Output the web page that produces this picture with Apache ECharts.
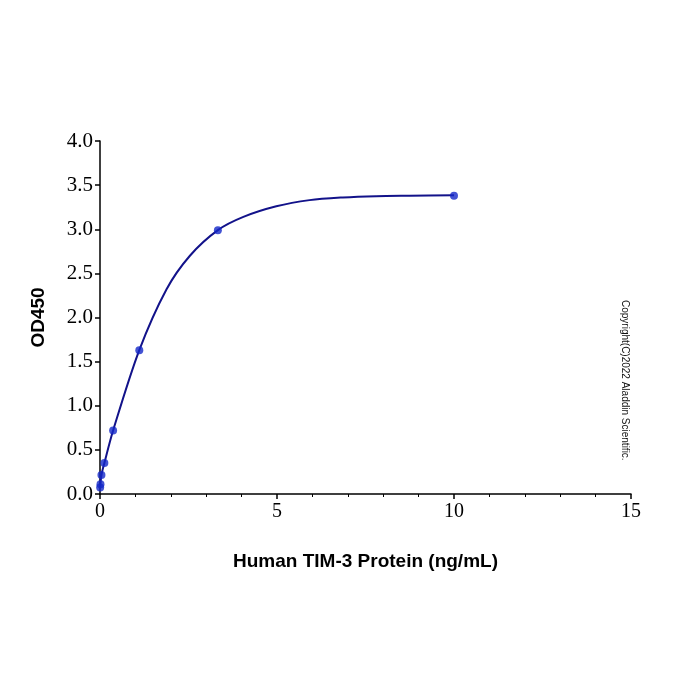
<!DOCTYPE html>
<html>
<head>
<meta charset="utf-8">
<script src="https://cdn.jsdelivr.net/npm/echarts@6/dist/echarts.min.js"></script>
<style>
  html, body { margin: 0; padding: 0; background: #fff; }
  #chart { width: 700px; height: 700px; }
</style>
</head>
<body>
<div id="chart"></div>
<script>
// measured standards (ng/mL, OD450)
var concValues = [0.0046, 0.0137, 0.041, 0.123, 0.37, 1.11, 3.33, 10];
var odValues = [0.075, 0.11, 0.215, 0.35, 0.72, 1.63, 2.99, 3.38];

// fitted curve
var fitX = [0.0046, 0.041, 0.123, 0.37, 1.11, 1.88, 2.54, 3.33, 4.05, 4.98, 5.92, 6.86, 7.8, 8.74, 10];
var fitY = [0.075, 0.215, 0.35, 0.72, 1.63, 2.32, 2.70, 2.99, 3.14, 3.26, 3.33, 3.36, 3.375, 3.38, 3.385];

var xTicks = [0, 5, 10, 15];
var yTicks = ['0.0', '0.5', '1.0', '1.5', '2.0', '2.5', '3.0', '3.5', '4.0'];

function pairs(xs, ys) {
  return xs.map(function (x, i) { return [x, ys[i]]; });
}

var chart = echarts.init(document.getElementById('chart'));
chart.setOption({
  animation: false,
  grid: { left: 100, right: 69, top: 141, bottom: 206 },
  xAxis: {
    type: 'value',
    min: 0, max: 15, interval: 5,
    name: 'Human TIM-3 Protein (ng/mL)',
    nameLocation: 'middle',
    nameGap: 58,
    nameTextStyle: { fontFamily: 'Liberation Sans', fontWeight: 'bold', fontSize: 19, color: '#000' },
    axisLine: { lineStyle: { color: '#000', width: 1.5 } },
    axisTick: { length: 5, lineStyle: { color: '#000', width: 1.5 } },
    minorTick: { show: true, splitNumber: 5, length: 3, lineStyle: { color: '#000', width: 1 } },
    axisLabel: {
      margin: 8, color: '#000', fontFamily: 'Liberation Serif', fontSize: 20,
      formatter: function (v) { return xTicks.indexOf(v) >= 0 ? String(v) : ''; }
    },
    splitLine: { show: false }
  },
  yAxis: {
    type: 'value',
    min: 0, max: 4, interval: 0.5,
    name: 'OD450',
    nameLocation: 'middle',
    nameGap: 52,
    nameTextStyle: { fontFamily: 'Liberation Sans', fontWeight: 'bold', fontSize: 19, color: '#000' },
    axisLine: { show: true, lineStyle: { color: '#000', width: 1.5 } },
    axisTick: { show: true, length: 5, lineStyle: { color: '#000', width: 1.5 } },
    axisLabel: {
      margin: 7, color: '#000', fontFamily: 'Liberation Serif', fontSize: 21,
      formatter: function (v) { return yTicks[Math.round(v * 2)]; }
    },
    splitLine: { show: false }
  },
  graphic: [{
    type: 'text',
    left: 620, top: 300,
    rotation: -Math.PI / 2,
    style: {
      text: 'Copyright(C)2022 Aladdin Scientific.',
      fontFamily: 'Liberation Sans', fontSize: 10, fill: '#111'
    }
  }],
  series: [{
    name: 'fit',
    type: 'line',
    data: pairs(fitX, fitY),
    smooth: 0.3,
    showSymbol: false,
    lineStyle: { color: '#12128a', width: 2 },
    z: 2
  }, {
    name: 'standards',
    type: 'scatter',
    data: pairs(concValues, odValues),
    symbol: 'circle',
    symbolSize: 8,
    itemStyle: { color: '#1428c8' },
    z: 3
  }]
});
</script>
</body>
</html>
